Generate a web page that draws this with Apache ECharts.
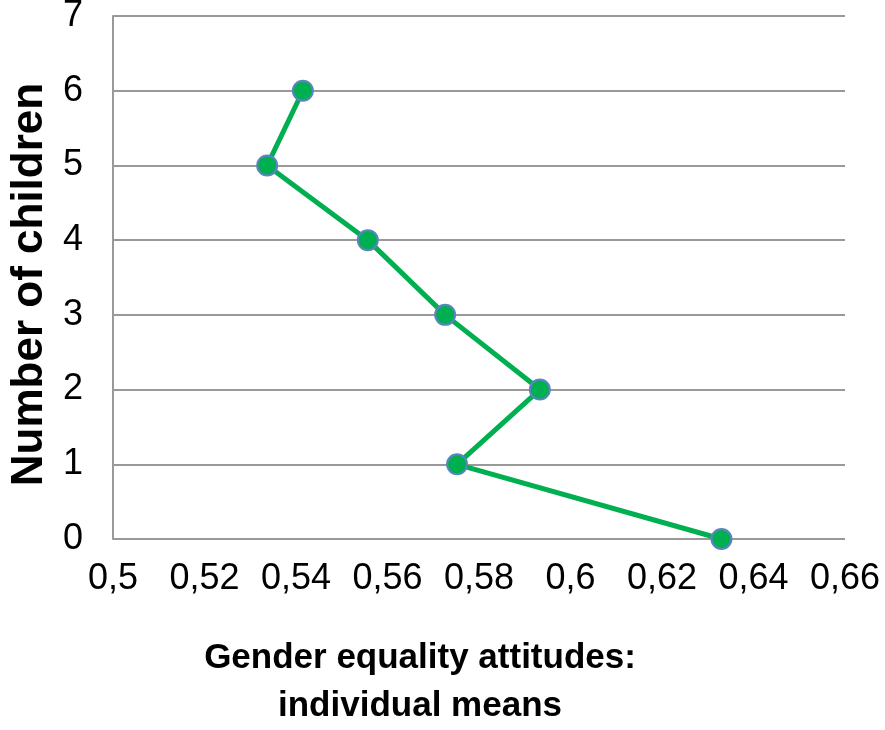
<!DOCTYPE html>
<html><head><meta charset="utf-8">
<script src="https://cdn.jsdelivr.net/npm/echarts@6/dist/echarts.min.js"></script>
<style>html,body{margin:0;padding:0;background:#fff}#c{width:885px;height:730px}</style>
</head><body><div id="c"></div>
<script>
const children = [0, 1, 2, 3, 4, 5, 6];
const means = [0.633, 0.5752, 0.5933, 0.5726, 0.5557, 0.5337, 0.5415];
const xTitle = 'Gender equality attitudes:\nindividual means';
const yTitle = 'Number of children';

const chart = echarts.init(document.getElementById('c'));
const fmt = v => String(Math.round(v * 100) / 100).replace('.', ',');
chart.setOption({
  animation: false,
  grid: { left: 113, right: 40, top: 16, bottom: 191, outerBoundsMode: 'none', containLabel: false },
  graphic: [{
    type: 'text', x: 420, y: 634,
    style: { text: xTitle, fill: '#000', fontFamily: 'Liberation Sans', fontWeight: 'bold', fontSize: 35, lineHeight: 48, align: 'center', verticalAlign: 'top' }
  }],
  xAxis: {
    type: 'value', min: 0.5, max: 0.66, interval: 0.02,
    axisLine: { show: false }, axisTick: { show: false },
    splitLine: { show: false },
    axisLabel: { formatter: fmt, fontFamily: 'Liberation Sans', fontSize: 36, color: '#000', margin: 22 }
  },
  yAxis: {
    type: 'value', min: 0, max: 7, interval: 1,
    axisLine: { show: true, lineStyle: { color: '#999', width: 2 } }, axisTick: { show: false },
    splitLine: { show: true, lineStyle: { color: '#999', width: 2 } },
    axisLabel: { fontFamily: 'Liberation Sans', fontSize: 36, color: '#000', margin: 30 },
    name: yTitle, nameLocation: 'middle', nameGap: 59, nameRotate: 90,
    nameTextStyle: { fontFamily: 'Liberation Sans', fontWeight: 'bold', fontSize: 44, color: '#000', padding: [0, 14, 0, 0] }
  },
  series: [{
    type: 'line',
    data: children.map((c, i) => [means[i], c]),
    symbol: 'circle', symbolSize: 20,
    lineStyle: { color: '#00B050', width: 5 },
    itemStyle: { color: '#00B050', borderColor: '#5B84C4', borderWidth: 2 }
  }]
});
</script></body></html>
